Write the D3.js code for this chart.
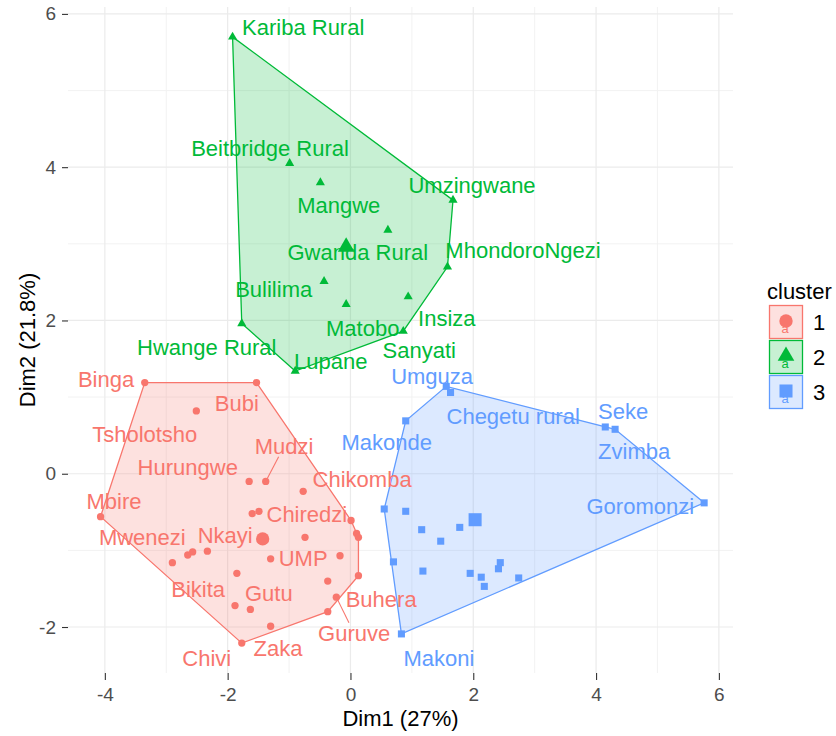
<!DOCTYPE html>
<html>
<head>
<meta charset="utf-8">
<script src="https://cdn.jsdelivr.net/npm/d3@7"></script>
<style>
  body { margin: 0; background: #fff; }
  text { font-family: "Liberation Sans", Arial, sans-serif; }
</style>
</head>
<body>
<script>
// cluster 1 (circles)
const c1Names = ["Binga","Bubi","Tsholotsho","Hurungwe","Mudzi","Chikomba","","","Chiredzi","","","Mbire","Nkayi","","","","Mwenezi","UMP","","","Buhera","","Guruve","","Bikita","Gutu","Zaka","Chivi"];
const c1Dim1 = [-3.35,-1.53,-2.51,-1.65,-1.38,-0.77,-1.60,-1.49,0.01,0.10,0.13,-4.07,-2.33,-0.74,-2.57,-2.65,-2.90,-1.30,-0.17,-1.85,0.13,-0.37,-0.23,-0.37,-1.88,-1.63,-1.30,-1.77];
const c1Dim2 = [1.19,1.19,0.82,-0.10,-0.10,-0.23,-0.52,-0.49,-0.61,-0.78,-0.83,-0.56,-1.01,-0.83,-1.02,-1.06,-1.16,-1.11,-1.07,-1.30,-1.33,-1.40,-1.61,-1.80,-1.72,-1.77,-1.99,-2.21];
const c1LabDim1 = [-3.98,-1.85,-3.35,-2.65,-1.08,0.19,null,null,-0.71,null,null,-3.85,-2.04,null,null,null,-3.39,-0.77,null,null,0.50,null,0.06,null,-2.48,-1.33,-1.18,-2.34];
const c1LabDim2 = [1.23,0.92,0.52,0.09,0.36,-0.07,null,null,-0.52,null,null,-0.36,-0.80,null,null,null,-0.83,-1.10,null,null,-1.63,null,-2.08,null,-1.50,-1.56,-2.28,-2.41];

// cluster 2 (triangles)
const c2Names = ["Kariba Rural","Beitbridge Rural","Mangwe","Gwanda Rural","Umzingwane","MhondoroNgezi","Bulilima","Matobo","Insiza","Sanyati","Hwange Rural","Lupane"];
const c2Dim1 = [-1.92,-0.99,-0.49,0.61,1.67,1.58,-0.43,-0.07,0.94,0.86,-1.77,-0.90];
const c2Dim2 = [5.70,4.05,3.80,3.18,3.57,2.70,2.51,2.21,2.31,1.86,1.96,1.34];
const c2LabDim1 = [-0.77,-1.31,-0.19,0.12,1.98,2.81,-1.25,0.20,1.57,1.12,-2.34,-0.32];
const c2LabDim2 = [5.83,4.25,3.50,2.89,3.77,2.92,2.41,1.90,2.03,1.61,1.65,1.47];

// cluster 3 (squares)
const c3Names = ["Umguza","Chegetu rural","Makonde","Seke","Zvimba","Goromonzi","","","","","","","","","","","","","","Makoni"];
const c3Dim1 = [1.56,1.63,0.90,4.15,4.31,5.76,1.78,1.16,1.47,0.90,0.55,0.70,1.18,1.95,2.13,2.18,2.41,2.44,2.74,0.83];
const c3Dim2 = [1.14,1.06,0.69,0.61,0.58,-0.38,-0.70,-0.73,-0.88,-0.49,-0.46,-1.15,-1.27,-1.30,-1.35,-1.47,-1.24,-1.16,-1.36,-2.09];
const c3LabDim1 = [1.33,2.65,0.59,4.44,4.62,4.72,null,null,null,null,null,null,null,null,null,null,null,null,null,1.44];
const c3LabDim2 = [1.27,0.75,0.41,0.82,0.29,-0.42,null,null,null,null,null,null,null,null,null,null,null,null,null,-2.41];

// cluster centres
const centreDim1 = [-1.43,-0.07,2.03];
const centreDim2 = [-0.85,2.96,-0.60];

const clusterIds = ["1","2","3"];
const clusterColors = ["#F8766D","#00BA38","#619CFF"];
const withSegment = ["Mudzi","Guruve"];

const xTicks = [-4,-2,0,2,4,6];
const yTicks = [-2,0,2,4,6];
const xTitle = "Dim1 (27%)";
const yTitle = "Dim2 (21.8%)";
const legendTitle = "cluster";

const W = 836, H = 736;
const margin = {left: 68, right: 103, top: 7, bottom: 63};
const pw = W - margin.left - margin.right;
const ph = H - margin.top - margin.bottom;

const svg = d3.select("body").append("svg")
    .attr("width", W)
    .attr("height", H);

const x = d3.scaleLinear().domain([-4.6, 6.23]).range([0, pw]);
const y = d3.scaleLinear().domain([-2.6, 6.09]).range([ph, 0]);

const g = svg.append("g").attr("transform", `translate(${margin.left},${margin.top})`);

// grid
const xMinor = d3.range(-3, 7, 2), yMinor = d3.range(-1, 7, 2);
g.selectAll(".gxm").data(xMinor).enter().append("line")
    .attr("x1", d => x(d)).attr("x2", d => x(d)).attr("y1", 0).attr("y2", ph)
    .attr("stroke", "#F0F0F0").attr("stroke-width", 0.9);
g.selectAll(".gym").data(yMinor).enter().append("line")
    .attr("y1", d => y(d)).attr("y2", d => y(d)).attr("x1", 0).attr("x2", pw)
    .attr("stroke", "#F0F0F0").attr("stroke-width", 0.9);
g.selectAll(".gx").data(xTicks).enter().append("line")
    .attr("x1", d => x(d)).attr("x2", d => x(d)).attr("y1", 0).attr("y2", ph)
    .attr("stroke", "#EBEBEB").attr("stroke-width", 1.2);
g.selectAll(".gy").data(yTicks).enter().append("line")
    .attr("y1", d => y(d)).attr("y2", d => y(d)).attr("x1", 0).attr("x2", pw)
    .attr("stroke", "#EBEBEB").attr("stroke-width", 1.2);

// axes
const xAxis = g.append("g").attr("transform", `translate(0,${ph})`)
    .call(d3.axisBottom(x).tickValues(xTicks).tickSize(7).tickPadding(8).tickFormat(d3.format("d")));
const yAxis = g.append("g")
    .call(d3.axisLeft(y).tickValues(yTicks).tickSize(6).tickPadding(6).tickFormat(d3.format("d")));
[xAxis, yAxis].forEach(a => {
  a.select(".domain").remove();
  a.selectAll("line").attr("stroke", "#333").attr("stroke-width", 1.1);
  a.selectAll("text").attr("fill", "#4D4D4D").style("font-size", "19px")
      .style("font-family", "'Liberation Sans', Arial, sans-serif");
});
xAxis.selectAll("text").text(d => d < 0 ? "-" + Math.abs(d) : d);
yAxis.selectAll("text").text(d => d < 0 ? "-" + Math.abs(d) : d);

svg.append("text").attr("x", margin.left + pw / 2).attr("y", 726)
    .attr("text-anchor", "middle").style("font-size", "22px").attr("fill", "#000").text(xTitle);
svg.append("text").attr("transform", `translate(35,${margin.top + ph / 2}) rotate(-90)`)
    .attr("text-anchor", "middle").style("font-size", "22px").attr("fill", "#000").text(yTitle);

// build cluster data
const clusters = [
  {names: c1Names, d1: c1Dim1, d2: c1Dim2, l1: c1LabDim1, l2: c1LabDim2, sym: d3.symbolCircle, size: 42, csize: 140},
  {names: c2Names, d1: c2Dim1, d2: c2Dim2, l1: c2LabDim1, l2: c2LabDim2, sym: d3.symbolTriangle, size: 36, csize: 120},
  {names: c3Names, d1: c3Dim1, d2: c3Dim2, l1: c3LabDim1, l2: c3LabDim2, sym: d3.symbolSquare, size: 50, csize: 170}
].map((c, i) => ({
  id: clusterIds[i],
  color: clusterColors[i],
  sym: c.sym, size: c.size, csize: c.csize,
  centre: [centreDim1[i], centreDim2[i]],
  points: c.names.map((n, j) => ({name: n, x: c.d1[j], y: c.d2[j], lx: c.l1[j], ly: c.l2[j]}))
}));

// hulls
clusters.forEach(c => {
  const hull = d3.polygonHull(c.points.map(p => [x(p.x), y(p.y)]));
  g.append("path")
      .attr("d", "M" + hull.join("L") + "Z")
      .attr("fill", c.color).attr("fill-opacity", 0.22)
      .attr("stroke", c.color).attr("stroke-width", 1.3);
});

// points and centres
clusters.forEach(c => {
  g.selectAll(null).data(c.points).enter().append("path")
      .attr("d", d3.symbol().type(c.sym).size(c.size))
      .attr("transform", d => `translate(${x(d.x)},${y(d.y)})`)
      .attr("fill", c.color);
  g.append("path")
      .attr("d", d3.symbol().type(c.sym).size(c.csize))
      .attr("transform", `translate(${x(c.centre[0])},${y(c.centre[1])})`)
      .attr("fill", c.color);
});

// labels and segments
clusters.forEach(c => {
  c.points.filter(p => p.name !== "").forEach(p => {
    const lx = x(p.lx), ly = y(p.ly);
    const t = g.append("text")
        .attr("x", lx).attr("y", ly).attr("dy", "0.36em")
        .attr("text-anchor", "middle")
        .style("font-size", "22px")
        .attr("fill", c.color)
        .text(p.name);
    if (withSegment.includes(p.name)) {
      const b = t.node().getBBox();
      const px = x(p.x), py = y(p.y);
      const hw = b.width / 2 + 2, hh = b.height / 2 - 2;
      const dx = px - lx, dy = py - ly;
      const s = Math.min(Math.abs(hw / dx), Math.abs(hh / dy));
      g.append("line")
          .attr("x1", px).attr("y1", py)
          .attr("x2", lx + dx * s).attr("y2", ly + dy * s)
          .attr("stroke", c.color).attr("stroke-width", 1.1);
    }
  });
});

// legend
const lg = svg.append("g").attr("transform", "translate(767,0)");
lg.append("text").attr("x", 0).attr("y", 299).style("font-size", "22px").attr("fill", "#000").text(legendTitle);
const keys = lg.selectAll(".key").data(clusters).enter().append("g")
    .attr("transform", (d, i) => `translate(2,${305 + i * 35})`);
keys.append("rect").attr("x", 0.5).attr("y", 0.5).attr("width", 33).attr("height", 33)
    .attr("fill", d => d.color).attr("fill-opacity", 0.22)
    .attr("stroke", d => d.color).attr("stroke-width", 1.3);
keys.append("text").attr("x", 16).attr("y", 28).attr("text-anchor", "middle")
    .style("font-size", "13px").attr("fill", d => d.color).text("a");
keys.append("path")
    .attr("d", d => d3.symbol().type(d.sym).size(d.csize)())
    .attr("transform", "translate(17,16)")
    .attr("fill", d => d.color);
keys.append("text").attr("x", 44).attr("y", 25).style("font-size", "22px").attr("fill", "#000")
    .text(d => d.id);
</script>
</body>
</html>
